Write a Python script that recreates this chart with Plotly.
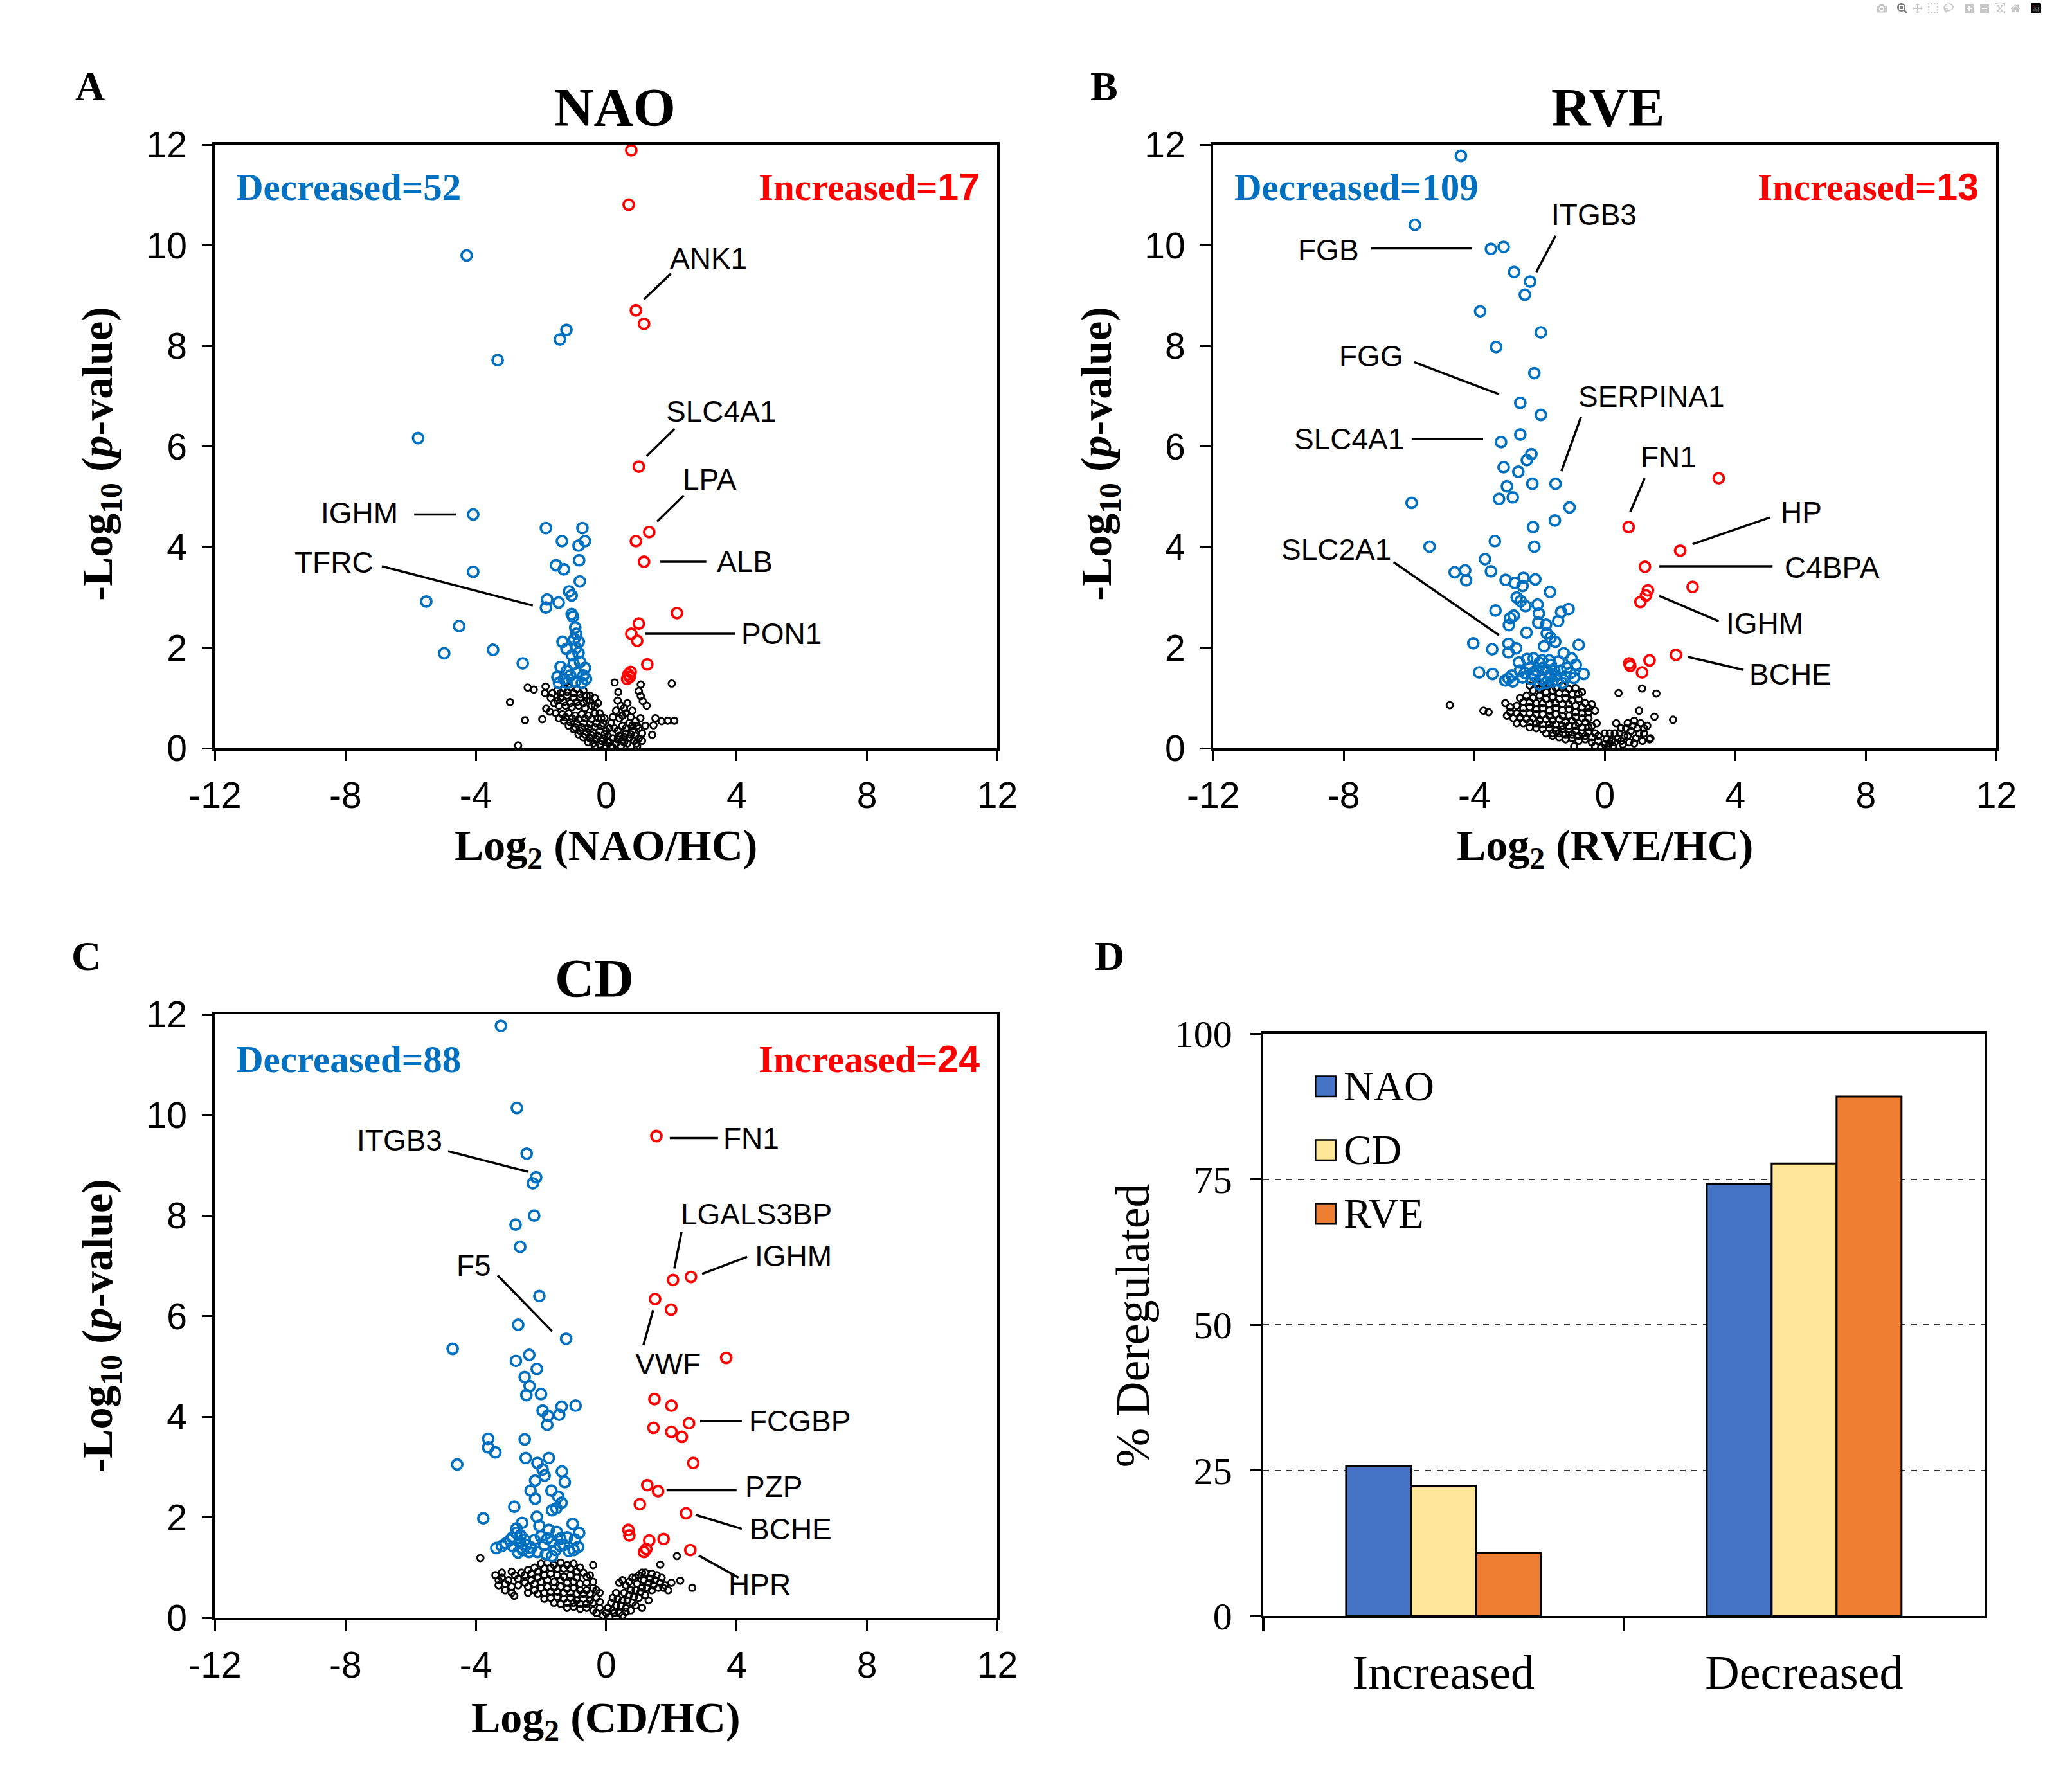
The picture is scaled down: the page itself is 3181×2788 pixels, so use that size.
import plotly.graph_objects as go

# ---------------- data ----------------
# panel A : NAO vs HC  (log2 fold change, -log10 p)
nao_dec = [(-4.28, 9.80), (-1.22, 8.32), (-1.42, 8.13), (-3.33, 7.72), (-5.77, 6.17),
           (-4.08, 4.65), (-1.85, 4.38), (-0.73, 4.38), (-1.36, 4.12), (-0.65, 4.12),
           (-0.85, 4.03), (-0.83, 3.74), (-1.54, 3.64), (-1.30, 3.56), (-4.08, 3.51),
           (-0.81, 3.32), (-1.14, 3.12), (-1.06, 3.04), (-5.52, 2.92), (-1.81, 2.96),
           (-1.46, 2.90), (-1.85, 2.80), (-1.06, 2.67), (-1.02, 2.62), (-4.51, 2.43),
           (-0.95, 2.40), (-0.92, 2.28), (-0.98, 2.17), (-1.34, 2.12), (-0.84, 2.12),
           (-0.92, 2.00), (-1.22, 1.98), (-4.97, 1.89), (-3.47, 1.96), (-2.56, 1.69),
           (-1.40, 1.62), (-1.20, 1.55), (-1.00, 1.68), (-0.80, 1.72), (-0.65, 1.60),
           (-1.50, 1.42), (-1.30, 1.38), (-1.10, 1.45), (-0.90, 1.50), (-0.70, 1.45),
           (-1.45, 1.30), (-1.20, 1.30), (-0.95, 1.33), (-0.75, 1.30), (-0.62, 1.38),
           (-1.05, 1.85), (-0.85, 1.90)]
nao_inc = [(0.77, 11.89), (0.69, 10.81), (0.91, 8.71), (1.16, 8.44), (1.00, 5.60),
           (1.32, 4.30), (0.91, 4.12), (1.16, 3.71), (2.17, 2.69), (1.00, 2.48),
           (0.77, 2.28), (0.95, 2.14), (1.26, 1.67), (0.75, 1.52), (0.68, 1.47),
           (0.64, 1.38), (0.72, 1.42)]
nao_ns = [(-2.41, 1.21), (-2.22, 1.17), (-1.86, 1.23), (-1.88, 1.10), (-2.95, 0.92),
          (-2.49, 0.56), (-1.96, 0.58), (-1.84, 0.79), (-1.73, 0.73), (-2.70, 0.06),
          (0.26, 1.31), (0.37, 1.12), (1.06, 1.27), (1.00, 1.14), (1.06, 1.04),
          (1.12, 0.94), (1.24, 0.85), (2.01, 1.29), (1.51, 0.60), (1.70, 0.54),
          (1.89, 0.55), (2.09, 0.55), (1.45, 0.46), (1.41, 0.27), (0.93, 0.10),
          (0.55, 0.12),
          (-1.50, 1.15), (-1.30, 1.20), (-1.10, 1.22), (-0.90, 1.18), (-0.70, 1.15),
          (-0.50, 1.05), (-1.40, 1.00), (-1.20, 1.05), (-1.00, 1.00), (-0.80, 1.00),
          (-0.60, 0.95), (-1.60, 0.90), (-1.45, 0.85), (-1.25, 0.85), (-1.05, 0.82),
          (-0.85, 0.85), (-0.65, 0.80), (-0.45, 0.85), (-1.55, 0.70), (-1.35, 0.68),
          (-1.15, 0.70), (-0.95, 0.65), (-0.75, 0.68), (-0.55, 0.65), (-0.35, 0.70),
          (-1.30, 0.55), (-1.10, 0.52), (-0.90, 0.50), (-0.70, 0.50), (-0.50, 0.48),
          (-0.30, 0.50), (-1.00, 0.38), (-0.80, 0.35), (-0.60, 0.33), (-0.40, 0.32),
          (-0.20, 0.35), (-0.70, 0.22), (-0.50, 0.20), (-0.30, 0.18), (-0.10, 0.20),
          (-0.40, 0.10), (-0.20, 0.08), (0.00, 0.05), (0.10, 0.12), (0.20, 0.20),
          (0.30, 0.10), (0.40, 0.25), (0.50, 0.15), (0.60, 0.30), (0.70, 0.20),
          (0.80, 0.35), (0.90, 0.25), (1.00, 0.40), (1.10, 0.30), (0.50, 0.45),
          (0.70, 0.50), (0.90, 0.55), (1.05, 0.60), (0.40, 0.60), (0.60, 0.70),
          (0.80, 0.75), (0.45, 0.85), (0.65, 0.90), (0.30, 0.75), (0.15, 0.50),
          (0.00, 0.35), (-0.10, 0.50), (-0.20, 0.70), (-0.25, 0.90), (-0.15, 0.60),
          (0.05, 0.25), (0.25, 0.40), (1.20, 0.45), (1.10, 0.15), (0.95, 0.05),
          (0.20, 0.02), (-0.05, 0.00),
          (-1.40, 1.10), (-1.20, 1.12), (-1.00, 1.10), (-0.80, 1.08), (-0.60, 1.05),
          (-1.50, 0.95), (-1.30, 0.92), (-1.10, 0.90), (-0.90, 0.92), (-0.70, 0.90),
          (-0.50, 0.95), (-0.35, 0.85), (-1.45, 0.60), (-1.25, 0.62), (-1.05, 0.60),
          (-0.85, 0.58), (-0.65, 0.60), (-0.45, 0.58), (-0.25, 0.60), (-1.15, 0.45),
          (-0.95, 0.42), (-0.75, 0.42), (-0.55, 0.40), (-0.35, 0.42), (-0.15, 0.45),
          (-0.85, 0.28), (-0.65, 0.28), (-0.45, 0.26), (-0.25, 0.25), (-0.05, 0.28),
          (-0.55, 0.12), (-0.35, 0.05), (-0.15, 0.15), (0.05, 0.15), (0.15, 0.05),
          (0.35, 0.18), (0.45, 0.05), (0.55, 0.22), (0.65, 0.10), (0.75, 0.28),
          (0.85, 0.15), (1.00, 0.20), (0.60, 0.40), (0.80, 0.45), (0.95, 0.45),
          (0.35, 0.35), (0.20, 0.62), (0.50, 0.65), (0.75, 0.62), (0.55, 0.80),
          (0.35, 0.95), (-0.35, 1.00), (-1.70, 1.00), (-1.65, 1.10), (-0.05, 0.60),
          (0.10, 0.40)]

# panel B : RVE vs HC
rve_dec = [(-4.41, 11.78), (-5.82, 10.41), (-3.49, 9.93), (-3.10, 9.97), (-2.78, 9.47),
           (-2.29, 9.28), (-2.45, 9.02), (-3.82, 8.69), (-1.96, 8.27), (-3.33, 7.98),
           (-2.16, 7.46), (-2.59, 6.87), (-1.96, 6.63), (-2.59, 6.24), (-3.18, 6.09),
           (-2.25, 5.85), (-2.39, 5.73), (-3.10, 5.59), (-2.65, 5.50), (-3.00, 5.21),
           (-2.22, 5.26), (-1.51, 5.26), (-3.24, 4.96), (-2.82, 4.99), (-5.92, 4.88),
           (-1.08, 4.79), (-1.53, 4.53), (-2.20, 4.40), (-5.37, 4.01), (-3.37, 4.12),
           (-2.16, 4.01),
           (-3.67, 3.76), (-4.60, 3.50), (-4.28, 3.54), (-4.25, 3.34), (-3.49, 3.52),
           (-3.04, 3.35), (-2.76, 3.29), (-2.49, 3.39), (-2.52, 3.23), (-2.13, 3.36),
           (-1.68, 3.11), (-2.70, 3.00), (-2.58, 2.93), (-2.43, 2.83), (-2.06, 2.86),
           (-3.35, 2.74), (-2.79, 2.64), (-2.90, 2.59), (-2.94, 2.45), (-2.02, 2.68),
           (-2.04, 2.50), (-1.34, 2.71), (-1.11, 2.77), (-1.43, 2.53), (-2.40, 2.30),
           (-1.80, 2.46), (-1.78, 2.29), (-1.66, 2.20), (-1.52, 2.12), (-1.86, 2.03),
           (-4.03, 2.09), (-3.45, 1.97), (-2.95, 2.08), (-2.72, 1.99), (-2.95, 1.91),
           (-0.80, 2.06), (-1.26, 1.89), (-2.63, 1.71), (-2.38, 1.78), (-2.18, 1.79),
           (-1.92, 1.75), (-1.65, 1.66), (-1.41, 1.73), (-1.02, 1.79), (-0.89, 1.66),
           (-0.65, 1.48), (-3.85, 1.51), (-3.44, 1.48), (-2.95, 1.39), (-2.82, 1.33),
           (-2.52, 1.41), (-2.15, 1.44), (-1.92, 1.37), (-1.66, 1.41), (-1.20, 1.42),
           (-2.00, 1.27), (-1.60, 1.33),
           (-2.30, 1.60), (-2.10, 1.55), (-1.90, 1.60), (-1.75, 1.52), (-1.55, 1.55),
           (-1.35, 1.55), (-1.15, 1.60), (-2.45, 1.50), (-2.25, 1.38), (-1.80, 1.30),
           (-1.45, 1.35), (-1.05, 1.50), (-2.00, 1.70), (-1.70, 1.75), (-2.60, 1.55),
           (-3.05, 1.35), (-2.85, 1.45), (-1.30, 1.30), (-0.95, 1.40), (-2.20, 1.50),
           (-1.50, 1.45)]
rve_inc = [(3.49, 5.37), (0.73, 4.40), (2.31, 3.93), (1.23, 3.61), (2.69, 3.21),
           (1.32, 3.14), (1.26, 3.04), (1.09, 2.91), (2.18, 1.86), (0.75, 1.69),
           (0.78, 1.64), (1.37, 1.75), (1.14, 1.51)]
rve_ns = [(-4.75, 0.86), (-3.72, 0.75), (-3.56, 0.72), (0.42, 1.10), (1.14, 1.19),
          (1.58, 1.09), (1.05, 0.75), (1.52, 0.63), (2.09, 0.57), (1.37, 0.18),
          (-0.25, 0.50), (-0.94, 0.04),
          (-2.30, 1.25), (-2.10, 1.30), (-1.90, 1.22), (-1.70, 1.28), (-1.50, 1.20),
          (-1.30, 1.25), (-1.10, 1.18), (-0.90, 1.20), (-0.70, 1.12),
          (-2.60, 1.00), (-2.40, 1.05), (-2.20, 1.00), (-2.00, 1.05), (-1.80, 0.98),
          (-1.60, 1.02), (-1.40, 0.98), (-1.20, 1.00), (-1.00, 0.95), (-0.80, 0.98),
          (-0.60, 0.90), (-0.40, 0.88),
          (-3.05, 0.90), (-2.90, 0.82), (-2.70, 0.85), (-2.50, 0.80), (-2.30, 0.82),
          (-2.10, 0.78), (-1.90, 0.80), (-1.70, 0.75), (-1.50, 0.80), (-1.30, 0.76),
          (-1.10, 0.78), (-0.90, 0.72), (-0.70, 0.70), (-0.50, 0.72), (-0.30, 0.75),
          (-3.00, 0.65), (-2.80, 0.60), (-2.60, 0.62), (-2.40, 0.58), (-2.20, 0.60),
          (-2.00, 0.55), (-1.80, 0.58), (-1.60, 0.55), (-1.40, 0.58), (-1.20, 0.52),
          (-1.00, 0.55), (-0.80, 0.50), (-0.60, 0.52), (-0.40, 0.45),
          (-2.30, 0.42), (-2.10, 0.40), (-1.90, 0.38), (-1.70, 0.40), (-1.50, 0.35),
          (-1.30, 0.38), (-1.10, 0.32), (-0.90, 0.35), (-0.70, 0.30), (-0.50, 0.32),
          (-0.30, 0.30),
          (-1.60, 0.25), (-1.40, 0.22), (-1.20, 0.18), (-1.00, 0.20), (-0.80, 0.15),
          (-0.60, 0.18), (-0.40, 0.12), (-0.20, 0.15), (0.00, 0.08), (-0.10, 0.02),
          (0.10, 0.03),
          (0.20, 0.15), (0.30, 0.30), (0.40, 0.20), (0.50, 0.40), (0.60, 0.25),
          (0.70, 0.50), (0.80, 0.35), (0.90, 0.55), (1.00, 0.40), (1.10, 0.50),
          (1.20, 0.30), (1.30, 0.45), (1.40, 0.20), (0.35, 0.50), (0.55, 0.08),
          (0.75, 0.12), (0.95, 0.20), (1.15, 0.15), (0.15, 0.30), (0.25, 0.05),
          (-2.20, 1.15), (-2.00, 1.18), (-1.80, 1.12), (-1.60, 1.15), (-1.40, 1.10),
          (-1.20, 1.10), (-1.00, 1.08), (-0.80, 1.08), (-2.50, 0.92), (-2.30, 0.92),
          (-2.10, 0.90), (-1.90, 0.90), (-1.70, 0.88), (-1.50, 0.90), (-1.30, 0.88),
          (-1.10, 0.88), (-0.90, 0.85), (-0.70, 0.82), (-0.50, 0.80), (-2.90, 0.72),
          (-2.70, 0.70), (-2.50, 0.70), (-2.30, 0.70), (-2.10, 0.68), (-1.90, 0.68),
          (-1.70, 0.65), (-1.50, 0.68), (-1.30, 0.65), (-1.10, 0.65), (-0.90, 0.62),
          (-0.70, 0.60), (-0.50, 0.60), (-2.70, 0.50), (-2.50, 0.50), (-2.30, 0.52),
          (-2.10, 0.50), (-1.90, 0.48), (-1.70, 0.48), (-1.50, 0.48), (-1.30, 0.45),
          (-1.10, 0.45), (-0.90, 0.45), (-0.70, 0.42), (-0.50, 0.42), (-1.80, 0.30),
          (-1.60, 0.30), (-1.40, 0.30), (-1.20, 0.28), (-1.00, 0.28), (-0.80, 0.25),
          (-0.60, 0.25), (-0.40, 0.22), (-0.20, 0.25), (-0.30, 0.05), (0.05, 0.18),
          (0.30, 0.12), (0.45, 0.30), (0.65, 0.40), (0.85, 0.45), (1.05, 0.30),
          (0.50, 0.15), (0.70, 0.25), (0.90, 0.10), (1.20, 0.40), (0.15, 0.10),
          (0.00, 0.30)]

# panel C : CD vs HC
cd_dec = [(-3.23, 11.77), (-2.74, 10.14), (-2.44, 9.23), (-2.15, 8.76), (-2.25, 8.64),
          (-2.21, 8.00), (-2.78, 7.82), (-2.64, 7.38), (-2.05, 6.40), (-2.70, 5.83),
          (-1.23, 5.55), (-4.71, 5.35),
          (-2.77, 5.11), (-2.36, 5.23), (-2.13, 4.95), (-2.50, 4.79), (-2.35, 4.61),
          (-2.45, 4.43), (-2.00, 4.45), (-1.95, 4.12), (-1.79, 4.02), (-1.44, 4.04),
          (-1.37, 4.20), (-0.94, 4.22), (-1.81, 3.84),
          (-3.62, 3.56), (-3.62, 3.39), (-3.40, 3.29), (-2.50, 3.55), (-4.57, 3.05),
          (-2.47, 3.18), (-2.11, 3.08), (-1.76, 3.18), (-1.95, 2.95), (-1.89, 2.83),
          (-1.36, 2.91), (-1.27, 2.70), (-2.18, 2.73), (-2.32, 2.53), (-2.18, 2.37),
          (-1.68, 2.53), (-1.47, 2.41), (-1.37, 2.29), (-1.66, 2.14), (-1.53, 2.18),
          (-2.82, 2.21), (-3.77, 1.98), (-2.13, 2.01), (-2.58, 1.89),
          (-2.05, 1.83), (-1.76, 1.75), (-1.52, 1.71), (-1.03, 1.87), (-0.83, 1.69),
          (-0.96, 1.56), (-2.76, 1.69), (-2.88, 1.60), (-2.63, 1.64), (-3.08, 1.48),
          (-3.37, 1.39), (-1.66, 1.52), (-1.41, 1.58), (-1.42, 1.44), (-1.15, 1.33),
          (-0.86, 1.41), (-2.56, 1.35), (-2.37, 1.31), (-2.11, 1.31), (-1.85, 1.27),
          (-1.66, 1.23),
          (-2.75, 1.78), (-2.65, 1.50), (-2.50, 1.55), (-2.85, 1.42), (-2.95, 1.55),
          (-2.60, 1.40), (-2.45, 1.45), (-2.30, 1.40), (-2.00, 1.62), (-1.90, 1.45),
          (-1.80, 1.58), (-1.55, 1.35), (-1.30, 1.45), (-1.20, 1.60), (-1.00, 1.35),
          (-2.20, 1.55), (-2.70, 1.30), (-3.20, 1.43)]
cd_inc = [(1.54, 9.58), (2.05, 6.72), (2.60, 6.78), (1.50, 6.34), (1.99, 6.13),
          (3.68, 5.17), (1.48, 4.35), (2.00, 4.22), (2.54, 3.87), (1.45, 3.78),
          (2.00, 3.70), (2.32, 3.60), (2.67, 3.08), (1.26, 2.64), (1.59, 2.52),
          (1.03, 2.26), (2.45, 2.08), (0.68, 1.75), (0.71, 1.64), (1.32, 1.54),
          (1.76, 1.57), (1.23, 1.37), (1.16, 1.31), (2.58, 1.35)]
cd_ns = [(-3.86, 1.19), (2.17, 1.23), (1.66, 1.06), (2.27, 0.74), (2.64, 0.60),
         (-2.82, 0.44),
         (-3.40, 0.85), (-3.20, 0.80), (-3.30, 0.65), (-3.00, 0.75), (-2.80, 0.85),
         (-2.70, 0.65), (-3.10, 0.55), (-2.90, 0.50), (-2.60, 0.90), (-2.40, 0.95),
         (-2.20, 1.00), (-2.00, 1.08), (-1.80, 1.10), (-1.60, 1.05), (-1.40, 1.10),
         (-1.20, 1.05), (-1.00, 1.08), (-0.80, 1.00), (-0.40, 1.05), (-2.50, 0.70),
         (-2.30, 0.75), (-2.10, 0.80), (-1.90, 0.85), (-1.70, 0.88), (-1.50, 0.85),
         (-1.30, 0.82), (-1.10, 0.85), (-0.90, 0.80), (-0.60, 0.82), (-2.40, 0.50),
         (-2.20, 0.55), (-2.00, 0.60), (-1.80, 0.62), (-1.60, 0.60), (-1.40, 0.62),
         (-1.20, 0.58), (-1.00, 0.60), (-0.80, 0.55), (-0.60, 0.55), (-0.40, 0.60),
         (-1.90, 0.38), (-1.70, 0.40), (-1.50, 0.42), (-1.30, 0.38), (-1.10, 0.40),
         (-0.90, 0.35), (-0.70, 0.38), (-0.50, 0.35), (-0.30, 0.40), (-1.20, 0.20),
         (-1.00, 0.22), (-0.80, 0.18), (-0.60, 0.20), (-0.40, 0.15), (-0.20, 0.20),
         (-0.10, 0.05), (0.00, 0.10), (0.10, 0.02), (0.20, 0.15), (0.30, 0.25),
         (0.40, 0.10), (0.50, 0.35), (0.60, 0.20), (0.70, 0.45), (0.80, 0.30),
         (0.90, 0.55), (1.00, 0.40), (1.10, 0.60), (1.20, 0.45), (1.30, 0.70),
         (1.40, 0.55), (1.50, 0.75), (1.60, 0.60), (1.70, 0.80), (1.80, 0.65),
         (1.90, 0.55), (2.00, 0.70), (0.40, 0.70), (0.60, 0.65), (0.80, 0.80),
         (1.00, 0.85), (1.20, 0.90), (1.40, 0.88), (0.50, 0.05), (0.30, 0.50),
         (-0.20, 0.50), (0.15, 0.30), (0.75, 0.15), (1.10, 0.20),
         (-3.30, 0.75), (-3.10, 0.68), (-2.90, 0.62), (-3.20, 0.90), (-2.90, 0.92),
         (-2.70, 0.78), (-2.50, 0.85), (-2.30, 0.88), (-2.10, 0.92), (-1.90, 0.98),
         (-1.70, 1.00), (-1.50, 0.98), (-1.30, 0.98), (-1.10, 0.98), (-0.90, 0.92),
         (-0.70, 0.90), (-0.50, 0.85), (-2.40, 0.62), (-2.20, 0.68), (-2.00, 0.72),
         (-1.80, 0.75), (-1.60, 0.72), (-1.40, 0.75), (-1.20, 0.70), (-1.00, 0.72),
         (-0.80, 0.68), (-0.60, 0.70), (-0.40, 0.72), (-2.10, 0.48), (-1.90, 0.50),
         (-1.70, 0.52), (-1.50, 0.52), (-1.30, 0.50), (-1.10, 0.50), (-0.90, 0.48),
         (-0.70, 0.48), (-0.50, 0.48), (-0.30, 0.55), (-1.60, 0.30), (-1.40, 0.28),
         (-1.20, 0.30), (-1.00, 0.30), (-0.80, 0.28), (-0.60, 0.28), (-0.40, 0.30),
         (-0.20, 0.32), (-0.30, 0.10), (0.05, 0.20), (0.25, 0.10), (0.35, 0.38),
         (0.45, 0.25), (0.55, 0.50), (0.65, 0.35), (0.75, 0.55), (0.85, 0.42),
         (0.95, 0.68), (1.05, 0.52), (1.15, 0.75), (1.25, 0.60), (1.35, 0.78),
         (1.45, 0.65), (1.55, 0.85), (1.65, 0.70), (1.75, 0.60), (0.50, 0.75),
         (0.70, 0.72), (0.90, 0.80), (1.10, 0.90), (0.60, 0.12), (0.90, 0.25),
         (1.30, 0.35), (0.20, 0.40)]

# panel D : % deregulated
groups = ["Increased", "Decreased"]
pct_nao = [25.8, 74.2]
pct_cd = [22.4, 77.7]
pct_rve = [10.8, 89.2]

vol_xticks = [-12, -8, -4, 0, 4, 8, 12]
vol_xtick_text = ["-12", "-8", "-4", "0", "4", "8", "12"]
vol_yticks = [0, 2, 4, 6, 8, 10, 12]
bar_yticks = [0, 25, 50, 75, 100]

# gene labels: text, text x/y, leader line x0, y0, x1, y1
nao_labels = [("ANK1", 3.13, 9.74, 1.99, 9.44, 1.16, 8.93),
              ("SLC4A1", 3.53, 6.70, 2.09, 6.35, 1.24, 5.81),
              ("LPA", 3.17, 5.35, 2.38, 5.03, 1.56, 4.51),
              ("ALB", 4.26, 3.71, 1.66, 3.71, 3.07, 3.71),
              ("PON1", 5.38, 2.28, 1.20, 2.28, 3.96, 2.28),
              ("IGHM", -7.57, 4.68, -5.89, 4.65, -4.61, 4.65),
              ("TFRC", -8.35, 3.70, -6.88, 3.62, -2.25, 2.84)]
rve_labels = [("ITGB3", -0.33, 10.61, -1.51, 10.19, -2.10, 9.47),
              ("FGB", -8.47, 9.91, -7.16, 9.94, -4.08, 9.94),
              ("FGG", -7.16, 7.80, -5.84, 7.68, -3.24, 7.04),
              ("SERPINA1", 1.43, 6.99, -0.73, 6.59, -1.33, 5.51),
              ("SLC4A1", -7.84, 6.15, -5.92, 6.15, -3.73, 6.15),
              ("FN1", 1.96, 5.79, 1.22, 5.37, 0.78, 4.70),
              ("HP", 6.02, 4.70, 5.06, 4.59, 2.69, 4.06),
              ("C4BPA", 6.96, 3.59, 1.67, 3.62, 5.14, 3.62),
              ("IGHM", 4.90, 2.48, 1.67, 3.03, 3.49, 2.53),
              ("BCHE", 5.69, 1.48, 2.55, 1.82, 4.25, 1.56),
              ("SLC2A1", -8.24, 3.95, -6.47, 3.70, -3.24, 2.25)]
cd_labels = [("FN1", 4.45, 9.54, 1.95, 9.54, 3.43, 9.54),
             ("ITGB3", -6.34, 9.50, -4.85, 9.28, -2.40, 8.87),
             ("LGALS3BP", 4.61, 8.03, 2.31, 7.67, 2.09, 6.95),
             ("IGHM", 5.73, 7.20, 4.32, 7.18, 2.94, 6.84),
             ("F5", -4.06, 7.01, -3.33, 6.81, -1.66, 5.70),
             ("VWF", 1.89, 5.05, 1.14, 5.42, 1.44, 6.12),
             ("FCGBP", 5.93, 3.91, 2.88, 3.91, 4.16, 3.91),
             ("PZP", 5.14, 2.61, 1.85, 2.54, 4.00, 2.54),
             ("BCHE", 5.67, 1.76, 2.74, 2.05, 4.16, 1.77),
             ("HPR", 4.71, 0.67, 2.84, 1.24, 4.06, 0.80)]

# ---------------- styling ----------------
SANS = "Liberation Sans"
SERIF = "Liberation Serif"
BLUE = "#0070C0"
RED = "#FF0000"

fig = go.Figure()

# name, axis suffix, decreased, increased, not significant, labels, count y
panels = [
    ("NAO", "", nao_dec, nao_inc, nao_ns, nao_labels, 11.16),
    ("RVE", "2", rve_dec, rve_inc, rve_ns, rve_labels, 11.16),
    ("CD", "3", cd_dec, cd_inc, cd_ns, cd_labels, 11.11),
]

shapes = []
annotations = []

for name, sfx, dec, inc, ns, labels, cy in panels:
    xa, ya = "x" + sfx, "y" + sfx
    # black cloud first, coloured points on top
    for pts, col, size, lw in [(ns, "black", 10, 2.8), (dec, BLUE, 16, 3.8), (inc, RED, 16, 3.8)]:
        xs, ys = zip(*pts)
        fig.add_trace(go.Scatter(
            x=xs, y=ys, mode="markers", xaxis=xa, yaxis=ya, showlegend=False,
            marker=dict(symbol="circle-open", size=size, color=col, line=dict(width=lw)),
        ))
    # leader lines + gene names
    for txt, tx, ty, x0, y0, x1, y1 in labels:
        shapes.append(dict(type="line", xref=xa, yref=ya, x0=x0, y0=y0, x1=x1, y1=y1,
                           line=dict(color="black", width=3.5)))
        annotations.append(dict(text=txt, x=tx, y=ty, xref=xa, yref=ya, showarrow=False,
                                xanchor="center", yanchor="middle",
                                font=dict(family=SANS, size=46, color="black")))
    # counts
    annotations.append(dict(text="<b>Decreased=%d</b>" % len(dec), x=-11.4, y=cy,
                            xref=xa, yref=ya, showarrow=False, xanchor="left", yanchor="middle",
                            font=dict(family=SERIF, size=59, color=BLUE)))
    annotations.append(dict(text="<b>Increased=<span style=\"font-family:'Liberation Sans'\">%d</span></b>" % len(inc),
                            x=11.5, y=cy, xref=xa, yref=ya, showarrow=False,
                            xanchor="right", yanchor="middle",
                            font=dict(family=SERIF, size=59, color=RED)))

# bar chart, panel D
bar_colors = ["#4472C4", "#FFE699", "#ED7D31"]
for nm, vals, col in zip(["NAO", "CD", "RVE"], [pct_nao, pct_cd, pct_rve], bar_colors):
    fig.add_trace(go.Bar(x=groups, y=vals, name=nm, xaxis="x4", yaxis="y4", showlegend=False,
                         marker=dict(color=col, line=dict(color="black", width=3))))

# hand-drawn legend (big square swatches like the original)
for i, (nm, col) in enumerate(zip(["NAO", "CD", "RVE"], bar_colors)):
    yc = 0.3908 - i * 0.0364
    shapes.append(dict(type="rect", xref="paper", yref="paper",
                       x0=0.6452, x1=0.6553, y0=yc - 0.0058, y1=yc + 0.0058,
                       fillcolor=col, line=dict(color="black", width=2.5)))
    annotations.append(dict(text=nm, x=0.6585, y=yc, xref="paper", yref="paper",
                            showarrow=False, xanchor="left", yanchor="middle",
                            font=dict(family=SERIF, size=65, color="black")))

# panel letters, titles, axis titles
for txt, x, y in [("A", 0.0319, 0.9622), ("B", 0.5395, 0.9622),
                  ("C", 0.0300, 0.4651), ("D", 0.5421, 0.4651)]:
    annotations.append(dict(text="<b>%s</b>" % txt, x=x, y=y, xref="paper", yref="paper",
                            showarrow=False, xanchor="center", yanchor="middle",
                            font=dict(family=SERIF, size=64, color="black")))
for txt, x, y in [("NAO", 0.2946, 0.9505), ("RVE", 0.7915, 0.9505), ("CD", 0.2844, 0.4527)]:
    annotations.append(dict(text="<b>%s</b>" % txt, x=x, y=y, xref="paper", yref="paper",
                            showarrow=False, xanchor="center", yanchor="middle",
                            font=dict(family=SERIF, size=85, color="black")))
for txt, x, y in [("NAO", 0.2902, 0.5269), ("RVE", 0.7902, 0.5269), ("CD", 0.2902, 0.0284)]:
    annotations.append(dict(text="<b>Log<sub>2</sub> (%s/HC)</b>" % txt, x=x, y=y,
                            xref="paper", yref="paper", showarrow=False,
                            xanchor="center", yanchor="middle",
                            font=dict(family=SERIF, size=68, color="black")))
for x, y in [(0.037, 0.7525), (0.537, 0.7525), (0.037, 0.254)]:
    annotations.append(dict(text="<b>-Log<sub>10</sub> (<i>p</i>-value)</b>", x=x, y=y,
                            xref="paper", yref="paper", showarrow=False, textangle=-90,
                            xanchor="center", yanchor="middle",
                            font=dict(family=SERIF, size=68, color="black")))
annotations.append(dict(text="% Deregulated", x=0.5536, y=0.254, xref="paper", yref="paper",
                        showarrow=False, textangle=-90, xanchor="center", yanchor="middle",
                        font=dict(family=SERIF, size=74, color="black")))

# axes
vol_x = dict(range=[-12, 12], tickvals=vol_xticks, ticktext=vol_xtick_text,
             ticks="outside", ticklen=16, tickwidth=3, tickcolor="black",
             showline=True, linewidth=4, linecolor="black", mirror=True,
             showgrid=False, zeroline=False, ticklabelstandoff=4,
             tickfont=dict(family=SANS, size=57, color="black"))
vol_y = dict(range=[0, 12], tickvals=vol_yticks,
             ticks="outside", ticklen=16, tickwidth=3, tickcolor="black",
             showline=True, linewidth=4, linecolor="black", mirror=True,
             showgrid=False, zeroline=False, ticklabelstandoff=12,
             tickfont=dict(family=SANS, size=57, color="black"))

dom_top = [0.584, 0.929]
dom_bot = [0.087, 0.432]
dom_left = [0.0944, 0.486]
dom_right = [0.594, 0.986]

fig.update_layout(
    width=3181, height=2788,
    margin=dict(l=0, r=0, t=0, b=0),
    paper_bgcolor="white", plot_bgcolor="white",
    showlegend=False,
    xaxis=dict(vol_x, domain=dom_left, anchor="y"),
    yaxis=dict(vol_y, domain=dom_top, anchor="x"),
    xaxis2=dict(vol_x, domain=dom_right, anchor="y2"),
    yaxis2=dict(vol_y, domain=dom_top, anchor="x2"),
    xaxis3=dict(vol_x, domain=dom_left, anchor="y3"),
    yaxis3=dict(vol_y, domain=dom_bot, anchor="x3"),
    xaxis4=dict(domain=[0.619, 0.980], anchor="y4", type="category",
                ticks="outside", tickson="boundaries", ticklen=20, tickwidth=4,
                tickcolor="black", showline=True, linewidth=4, linecolor="black",
                mirror=True, showgrid=False, ticklabelstandoff=20,
                tickfont=dict(family=SERIF, size=74, color="black")),
    yaxis4=dict(domain=[0.088, 0.421], anchor="x4", range=[0, 100], tickvals=bar_yticks,
                ticks="outside", ticklen=16, tickwidth=3, tickcolor="black",
                showline=True, linewidth=4, linecolor="black", mirror=True,
                showgrid=True, gridcolor="#333333", gridwidth=2, griddash="dash",
                zeroline=False, ticklabelstandoff=16,
                tickfont=dict(family=SERIF, size=60, color="black")),
    barmode="group", bargap=0.46, bargroupgap=0,
    shapes=shapes,
    annotations=annotations,
)

fig.write_html("out.html", post_script="document.body.style.margin='0px';")
